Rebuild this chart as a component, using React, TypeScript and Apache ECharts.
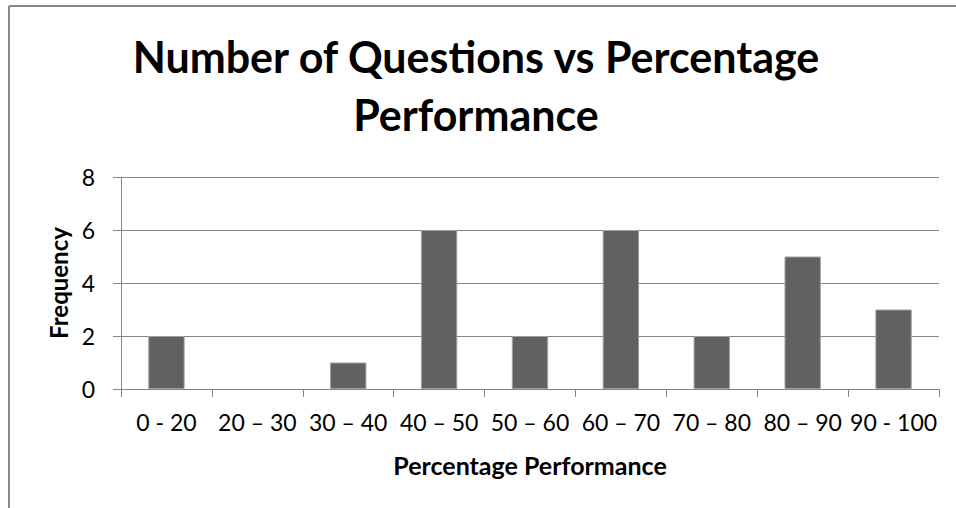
import React, { useEffect, useRef } from "react";
import * as echarts from "echarts";

const categories = ["0 - 20", "20 – 30", "30 – 40", "40 – 50", "50 – 60", "60 – 70", "70 – 80", "80 – 90", "90 - 100"];
const frequency = [2, 0, 1, 6, 2, 6, 2, 5, 3];
const yTicks = { min: 0, max: 8, interval: 2 };

const FONT = "Lato, 'Open Sans', sans-serif";

export default function App() {
  const ref = useRef<HTMLDivElement>(null);
  useEffect(() => {
    if (!ref.current) return;
    const chart = echarts.init(ref.current, undefined, { renderer: "svg" });
    chart.setOption({
      animation: false,
      backgroundColor: "#ffffff",
      title: {
        text: "Number of Questions vs Percentage\nPerformance",
        left: 471,
        top: 22,
        textAlign: "center",
        textStyle: { fontFamily: FONT, fontWeight: "bold", fontSize: 43, color: "#000", lineHeight: 58 },
      },
      grid: { left: 121, right: 17, top: 177, bottom: 119 },
      xAxis: {
        type: "category",
        data: categories,
        name: "Percentage Performance",
        nameLocation: "middle",
        nameGap: 63,
        nameTextStyle: { fontFamily: FONT, fontWeight: "bold", fontSize: 25, color: "#000" },
        axisLine: { lineStyle: { color: "#868686", width: 1 } },
        axisTick: { show: true, length: 8, lineStyle: { color: "#868686" } },
        axisLabel: { fontFamily: FONT, fontSize: 23, color: "#000", margin: 21, interval: 0 },
      },
      yAxis: {
        type: "value",
        min: yTicks.min,
        max: yTicks.max,
        interval: yTicks.interval,
        name: "Frequency",
        nameLocation: "middle",
        nameGap: 47,
        nameRotate: 90,
        nameTextStyle: { fontFamily: FONT, fontWeight: "bold", fontSize: 24, color: "#000" },
        axisLine: { show: true, lineStyle: { color: "#868686", width: 1 } },
        axisTick: { show: true, length: 8, lineStyle: { color: "#868686" } },
        axisLabel: { fontFamily: FONT, fontSize: 23, color: "#000", margin: 26 },
        splitLine: { show: true, lineStyle: { color: "#868686", width: 1 } },
      },
      series: [
        {
          type: "bar",
          data: frequency.map((v) => (v === 0 ? { value: v, itemStyle: { borderWidth: 0 } } : v)),
          barWidth: "40%",
          itemStyle: { color: "#616161", borderColor: "#a0a0a0", borderWidth: 1 },
        },
      ],
      graphic: [
        { type: "line", shape: { x1: 9, y1: 6, x2: 956, y2: 6 }, style: { stroke: "#888888", lineWidth: 2 } },
        { type: "line", shape: { x1: 9, y1: 6, x2: 9, y2: 508 }, style: { stroke: "#888888", lineWidth: 2 } },
      ],
    });
    return () => chart.dispose();
  }, []);
  return <div ref={ref} style={{ position: "fixed", left: 0, top: 0, width: 956, height: 508 }} />;
}
